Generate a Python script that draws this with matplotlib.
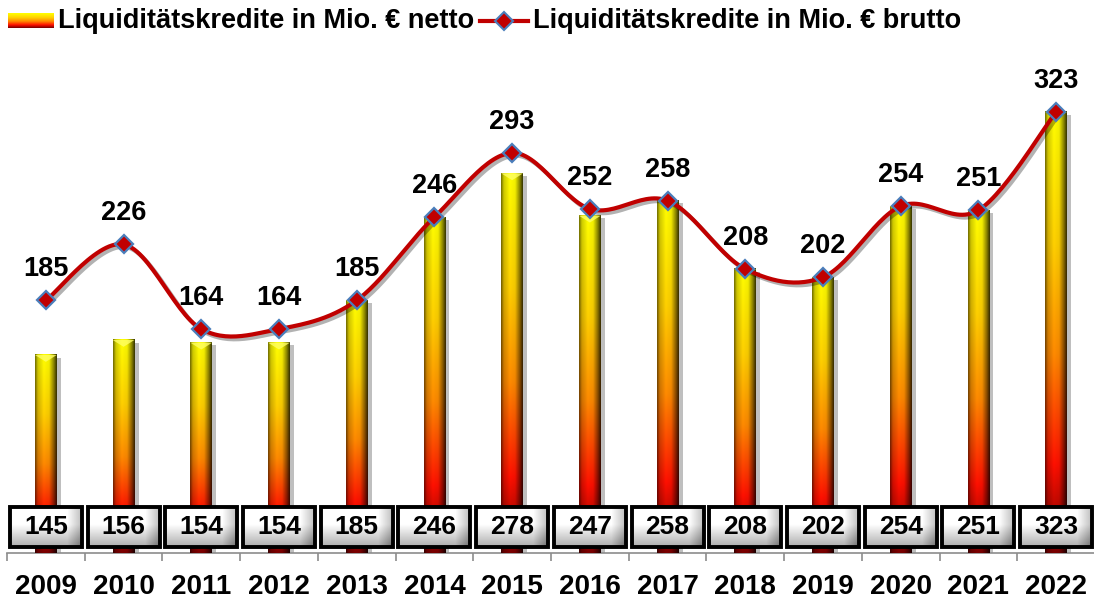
import numpy as np
import matplotlib.pyplot as plt
import matplotlib.patheffects as pe
from matplotlib.patches import Rectangle, Polygon
from matplotlib.lines import Line2D
from matplotlib.colors import LinearSegmentedColormap

years = ['2009', '2010', '2011', '2012', '2013', '2014', '2015',
         '2016', '2017', '2018', '2019', '2020', '2021', '2022']
netto = [145, 156, 154, 154, 185, 246, 278, 247, 258, 208, 202, 254, 251, 323]
brutto = [185, 226, 164, 164, 185, 246, 293, 252, 258, 208, 202, 254, 251, 323]
label_netto = 'Liquiditätskredite in Mio. € netto'
label_brutto = 'Liquiditätskredite in Mio. € brutto'

plt.rcParams['font.family'] = ['Liberation Sans', 'DejaVu Sans']
plt.rcParams['font.weight'] = 'bold'

# vertical colour ramp of the bars (top -> bottom)
bar_cmap = LinearSegmentedColormap.from_list(
    'bar', [(0.0, '#ffff00'), (0.3, '#ffd000'), (0.55, '#ff8a00'),
            (0.8, '#ff1000'), (1.0, '#7a0000')])


def bar_image(nh=256, nw=40, shaded=True):
    v = np.linspace(0, 1, nh)[:, None]
    rgb = bar_cmap(np.repeat(v, nw, axis=1))[..., :3]
    if not shaded:
        return rgb
    u = np.linspace(0, 1, nw)
    shade = np.interp(u, [0, 0.12, 0.4, 0.65, 0.88, 1.0], [0.45, 0.8, 1.0, 0.95, 0.5, 0.22])
    return rgb * shade[None, :, None]


def box_image(nh=40, nw=72):
    y = np.linspace(0, 1, nh)[:, None]
    x = np.linspace(0, 1, nw)[None, :]
    g = 1 - 0.32 * np.clip((y - 0.45) / 0.55, 0, 1) - 0.25 * np.clip((x - 0.8) / 0.2, 0, 1)
    g = np.clip(g, 0, 1)
    return np.dstack([g, g, g])


def smooth(xs, ys, n=30):
    # Bezier smoothing like office charts (Catmull-Rom tangents)
    xs = np.asarray(xs, float)
    ys = np.asarray(ys, float)
    px, py = [], []
    for i in range(len(xs) - 1):
        i0, i3 = max(i - 1, 0), min(i + 2, len(xs) - 1)
        p0 = np.array([xs[i], ys[i]])
        p3 = np.array([xs[i + 1], ys[i + 1]])
        p1 = p0 + (np.array([xs[i + 1], ys[i + 1]]) - np.array([xs[i0], ys[i0]])) / 6
        p2 = p3 - (np.array([xs[i3], ys[i3]]) - np.array([xs[i], ys[i]])) / 6
        t = np.linspace(0, 1, n)[:, None]
        pts = ((1 - t) ** 3) * p0 + 3 * ((1 - t) ** 2) * t * p1 + 3 * (1 - t) * t ** 2 * p2 + t ** 3 * p3
        px.extend(pts[:, 0])
        py.extend(pts[:, 1])
    return px, py


fig = plt.figure(figsize=(10.94, 6.02), dpi=100)
ax = fig.add_axes([0.0064, 0.0814, 0.9945, 0.8166])

x = np.arange(len(years))
bw = 0.28
img = bar_image()
for xi, v in zip(x, netto):
    sh = Rectangle((xi - bw / 2, 0), bw, v, facecolor='white', edgecolor='none', zorder=2,
                   path_effects=[pe.SimplePatchShadow(offset=(3, -2), shadow_rgbFace='#000000', alpha=0.25)])
    ax.add_patch(sh)
    ax.imshow(img, extent=(xi - bw / 2, xi + bw / 2, 0, v), aspect='auto', zorder=3,
              interpolation='bilinear')
    # bevelled top
    ax.add_patch(Polygon([(xi - bw / 2, v), (xi + bw / 2, v), (xi, v - 5)],
                         closed=True, facecolor='#ffff66', edgecolor='none', alpha=0.8, zorder=4))

# smoothed brutto line
sx, sy = smooth(x, brutto)
ax.plot(sx, sy, color='#c00000', lw=3, zorder=5, solid_capstyle='round',
        path_effects=[pe.SimpleLineShadow(offset=(2, -2), alpha=0.3), pe.Normal()])
ax.plot(x, brutto, ls='none', marker='D', ms=9.5, mfc='#c00000', mec='#4a7ebb', mew=1.6, zorder=6)
for xi, v in zip(x, brutto):
    ax.annotate(str(v), (xi, v), xytext=(0, 13), textcoords='offset points',
                ha='center', va='bottom', fontsize=19.5, fontweight='bold', zorder=7)

# value boxes with netto values
boxw, boxb, boxh = 0.925, 4.4, 29.3
bimg = box_image()
for xi, v in zip(x, netto):
    ax.imshow(bimg, extent=(xi - boxw / 2, xi + boxw / 2, boxb, boxb + boxh), aspect='auto',
              zorder=8, interpolation='bilinear')
    ax.add_patch(Rectangle((xi - boxw / 2, boxb), boxw, boxh, facecolor='none',
                           edgecolor='black', lw=2.8, zorder=9))
    ax.text(xi, boxb + boxh / 2, str(v), ha='center', va='center', fontsize=19,
            fontweight='bold', zorder=10)

ax.set_xlim(-0.5, len(years) - 0.5)
ax.set_ylim(0, 360)
for s in ['top', 'right', 'left']:
    ax.spines[s].set_visible(False)
ax.spines['bottom'].set_color('#8c8c8c')
ax.spines['bottom'].set_linewidth(1.2)
ax.set_yticks([])
ax.set_xticks(x)
ax.set_xticklabels(years, fontsize=20, fontweight='bold')
ax.tick_params(axis='x', which='major', length=0, pad=15)
ax.set_xticks(np.arange(-0.5, len(years)), minor=True)
ax.tick_params(axis='x', which='minor', length=6, color='#8c8c8c', width=1.2)

# legend drawn by hand
lax = fig.add_axes([8 / 1094, 1 - 28 / 602, 46 / 1094, 15 / 602])
lax.imshow(bar_image(40, 40, shaded=False), aspect='auto')
lax.axis('off')
ly = 1 - 21 / 602
fig.text(58 / 1094, ly, label_netto, fontsize=19.5, fontweight='bold', va='center', ha='left')
fig.add_artist(Line2D([480 / 1094, 528 / 1094], [ly] * 2, color='#c00000', lw=3,
                      transform=fig.transFigure))
fig.add_artist(Line2D([504 / 1094], [ly], ls='none', marker='D', ms=9, mfc='#c00000',
                      mec='#4a7ebb', mew=1.5, transform=fig.transFigure))
fig.text(533 / 1094, ly, label_brutto, fontsize=19.5, fontweight='bold', va='center', ha='left')

fig.savefig('out.png', dpi=100)
